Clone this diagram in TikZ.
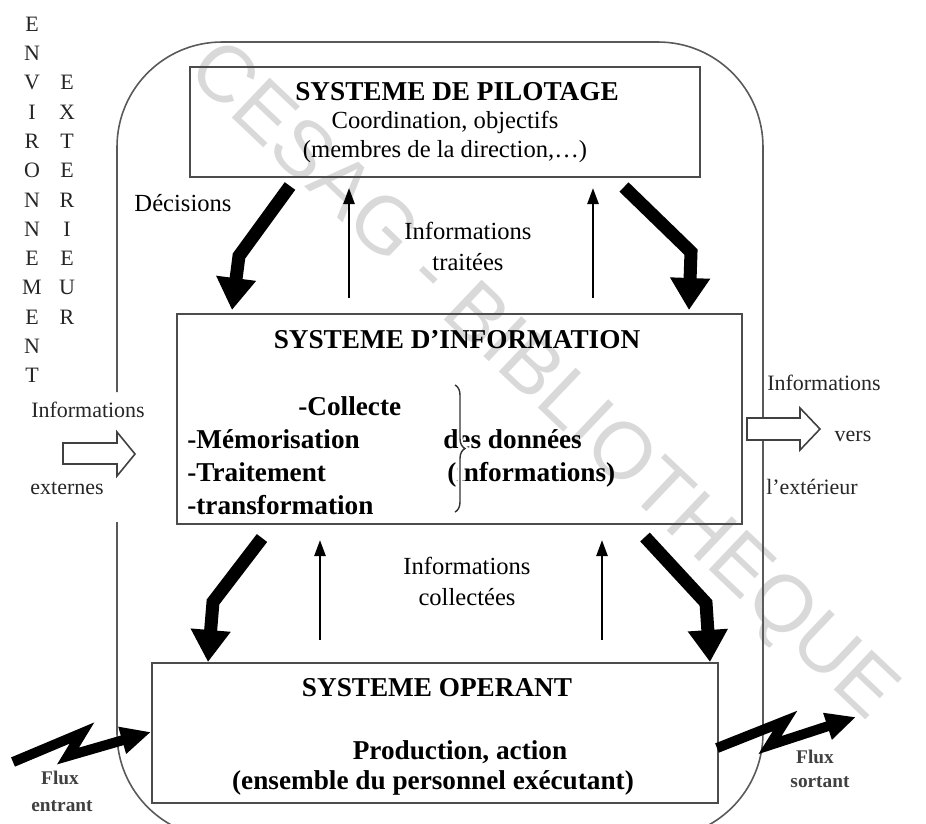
\documentclass[tikz,border=0pt]{standalone}
\usepackage{fontspec}
\setmainfont{Liberation Serif}
\newfontfamily\wmfont{Liberation Sans}
\usetikzlibrary{arrows.meta,decorations.pathreplacing}

\begin{document}
\begin{tikzpicture}[x=0.02cm,y=-0.02cm,
  sysbox/.style={draw=black!70,line width=1.1pt,inner sep=0pt},
  outline/.style={draw=black!65,line width=0.9pt},
  titre/.style={font=\fontsize{15.5}{18}\selectfont\bfseries,inner sep=0pt},
  gras/.style={font=\fontsize{15.5}{18}\selectfont\bfseries,inner sep=0pt,anchor=base west},
  lab/.style={font=\fontsize{14}{16}\selectfont,inner sep=0pt},
  side/.style={font=\fontsize{12.5}{14}\selectfont,inner sep=0pt,text=black!85},
  flux/.style={font=\fontsize{11}{13}\selectfont\bfseries,inner sep=0pt,text=black!75},
  bigarrow/.style={line width=0.26cm,line join=miter,-{Triangle[width=0.76cm,length=0.64cm]}},
  thinarrow/.style={line width=0.05cm,-{Triangle[width=0.22cm,length=0.32cm]}},
  bolt/.style={line width=0.2cm,line join=miter,miter limit=6,-{Triangle[width=0.52cm,length=0.6cm]}},
  hollow/.style={draw=black!75,line width=0.9pt,fill=white,line join=miter},
  watermark/.style={font=\wmfont\fontsize{45.5}{50}\selectfont,text=black!15,inner sep=0pt}]

\useasboundingbox (0,0) rectangle (926,823);
\clip (0,0) rectangle (926,823);
\fill[white] (0,0) rectangle (926,823);

% library stamp across the page
\node[watermark,rotate=-43.5] (stamp) at (541,383) {CESAG - BIBLIOTHEQUE};

% boundary of the enterprise (left side open where external information enters)
\draw[outline,rounded corners=2.1cm] (117,522) -- (117,838) -- (763,838) -- (763,42) -- (117,42) -- (117,392);

% external environment, written vertically
\foreach \c [count=\i from 0] in {E,N,V,I,R,O,N,N,E,M,E,N,T}
  \node[side] (env\i) at (32,24+29.3*\i) {\c};
\foreach \c [count=\i from 2] in {E,X,T,E,R,I,E,U,R}
  \node[side] (ext\i) at (67,24+29.3*\i) {\c};

% the three subsystems
\node[sysbox,minimum width=10.2cm,minimum height=2.2cm] (sp) at (445,122) {};
\node[sysbox,minimum width=11.3cm,minimum height=4.2cm] (si) at (459.5,419) {};
\node[sysbox,minimum width=11.32cm,minimum height=2.8cm] (so) at (435,733) {};

% steering system
\node[titre] (spt) at (457,92) {SYSTEME DE PILOTAGE};
\node[lab] (sp1) at (445,122) {Coordination, objectifs};
\node[lab] (sp2) at (445,152) {(membres de la direction,\dots)};

% information system
\node[titre] (sit) at (457,340) {SYSTEME D’INFORMATION};
\node[gras] (si1) at (298,415) {-Collecte};
\node[gras] (si2) at (187,448) {-Mémorisation};
\node[gras] (si3) at (187,481) {-Traitement};
\node[gras] (si4) at (187,514) {-transformation};
\node[gras] (si5) at (443,448) {des données};
\node[gras] (si6) at (447,481) {(informations)};
\coordinate (brt) at (455,385);
\coordinate (brb) at (455,512);
\draw[white,line width=3pt,decorate,decoration={brace,amplitude=0.2cm}] (brt) -- (brb);
\draw[black!80,line width=0.8pt,decorate,decoration={brace,amplitude=0.2cm}] (brt) -- (brb);

% operating system
\node[titre] (sot) at (437,688) {SYSTEME OPERANT};
\node[titre] (so1) at (460,752) {Production, action};
\node[titre] (so2) at (433,783) {(ensemble du personnel exécutant)};

% decisions flowing down
\coordinate (d1a) at (290,186); \coordinate (d1b) at (239,256); \coordinate (d1c) at (232,310);
\coordinate (d2a) at (624,187); \coordinate (d2b) at (691,252); \coordinate (d2c) at (689,310);
\coordinate (d3a) at (262,538); \coordinate (d3b) at (213,602); \coordinate (d3c) at (208,662);
\coordinate (d4a) at (645,537); \coordinate (d4b) at (706,603); \coordinate (d4c) at (710,662);
\draw[bigarrow] (d1a) -- (d1b) -- (d1c);
\draw[bigarrow] (d2a) -- (d2b) -- (d2c);
\draw[bigarrow] (d3a) -- (d3b) -- (d3c);
\draw[bigarrow] (d4a) -- (d4b) -- (d4c);

% information flowing up
\draw[thinarrow] (349,298) -- (349,188);
\draw[thinarrow] (593,298) -- (593,188);
\draw[thinarrow] (320,640) -- (320,540);
\draw[thinarrow] (602,640) -- (602,540);

\node[lab] (dec) at (183,203) {Décisions};
\node[lab] (it1) at (468,231) {Informations};
\node[lab] (it2) at (468,262) {traitées};
\node[lab] (ic1) at (467,566) {Informations};
\node[lab] (ic2) at (467,597) {collectées};

% exchanges with the outside
\draw[hollow] (63,443) -- (117,443) -- (117,432) -- (135,454) -- (117,476) -- (117,464) -- (63,464) -- cycle;
\draw[hollow] (747,418) -- (800,418) -- (800,408) -- (820,429) -- (800,450) -- (800,440) -- (747,440) -- cycle;
\node[side] (ie1) at (88,410) {Informations};
\node[side] (ie2) at (67,488) {externes};
\node[side] (is1) at (824,383) {Informations};
\node[side] (is2) at (853,436) {vers};
\node[side] (is3) at (812,487) {l’extérieur};

% physical flows
\coordinate (fe0) at (13,762); \coordinate (fe1) at (82,733); \coordinate (fe2) at (68,756); \coordinate (fe3) at (151,732);
\coordinate (fs0) at (717,748); \coordinate (fs1) at (785,721); \coordinate (fs2) at (770,745); \coordinate (fs3) at (856,717);
\draw[bolt] (fe0) -- (fe1) -- (fe2) -- (fe3);
\draw[bolt] (fs0) -- (fs1) -- (fs2) -- (fs3);
\node[flux] (fe4) at (60,778) {Flux};
\node[flux] (fe5) at (62,806) {entrant};
\node[flux] (fs4) at (815,757) {Flux};
\node[flux] (fs5) at (820,782) {sortant};
\end{tikzpicture}
\end{document}
